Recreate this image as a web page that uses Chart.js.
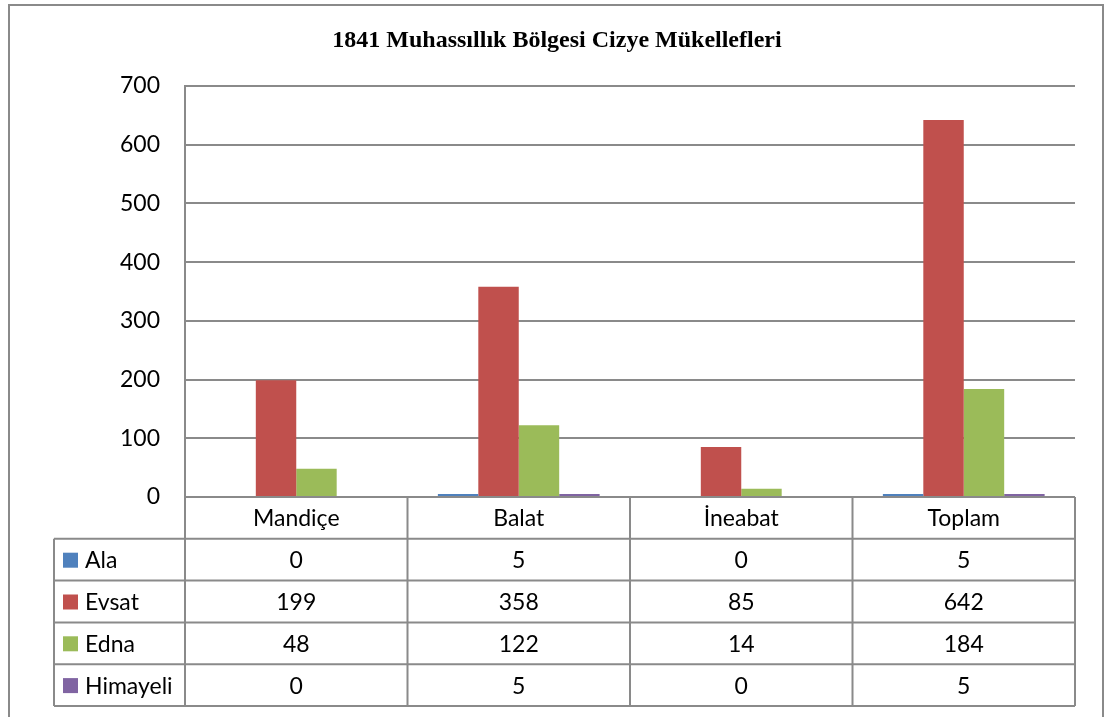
<!DOCTYPE html>
<html>
<head>
<meta charset="utf-8">
<script src="https://cdn.jsdelivr.net/npm/chart.js@4.4.0/dist/chart.umd.min.js"></script>
<style>
  body { margin: 0; background: #fff; }
  canvas { display: block; }
</style>
</head>
<body>
<canvas id="chart" width="1105" height="717"></canvas>
<script>
/** ────── DATA ────── */
const titleText = "1841 Muhassıllık Bölgesi Cizye Mükellefleri";
const categories = ["Mandiçe", "Balat", "İneabat", "Toplam"];
const seriesNames = ["Ala", "Evsat", "Edna", "Himayeli"];
const alaValues = [0, 5, 0, 5];
const evsatValues = [199, 358, 85, 642];
const ednaValues = [48, 122, 14, 184];
const himayeliValues = [0, 5, 0, 5];
const yTicks = [0, 100, 200, 300, 400, 500, 600, 700];

const seriesColors = ["#4F81BD", "#C0504D", "#9BBB59", "#8064A2"];
const lineColor = "#8a8a8a";
const tableFont = "23px Lato";

/** ────── PLUGIN: frame, title, data table ────── */
const excelLook = {
  id: "excelLook",
  beforeDraw(chart) {
    const { ctx, width, height } = chart;
    ctx.save();
    ctx.fillStyle = "#fff";
    ctx.fillRect(0, 0, width, height);
    ctx.strokeStyle = lineColor;
    ctx.lineWidth = 2;
    ctx.beginPath();
    ctx.moveTo(9, height + 5);
    ctx.lineTo(9, 5);
    ctx.lineTo(1103, 5);
    ctx.lineTo(1103, height + 5);
    ctx.stroke();
    ctx.restore();
  },
  afterDraw(chart) {
    const { ctx, chartArea } = chart;
    const x = chart.scales.x;
    ctx.save();

    // title
    ctx.fillStyle = "#000";
    ctx.font = "bold 24px 'Liberation Serif'";
    ctx.textAlign = "center";
    ctx.textBaseline = "middle";
    ctx.fillText(titleText, 557, 41);

    // table geometry
    const half = (x.getPixelForValue(1) - x.getPixelForValue(0)) / 2;
    const edges = categories.map((_, i) => x.getPixelForValue(i) - half);
    edges.push(chartArea.right);
    const top = chartArea.bottom;
    const rowH = 41.8;
    const tableLeft = 54;
    const bottom = top + rowH * (seriesNames.length + 1);

    ctx.strokeStyle = lineColor;
    ctx.lineWidth = 2;
    ctx.beginPath();
    edges.forEach((ex) => {
      ctx.moveTo(ex, top);
      ctx.lineTo(ex, bottom);
    });
    ctx.moveTo(tableLeft, top + rowH);
    ctx.lineTo(tableLeft, bottom);
    for (let r = 1; r <= seriesNames.length + 1; r++) {
      ctx.moveTo(tableLeft, top + rowH * r);
      ctx.lineTo(chartArea.right, top + rowH * r);
    }
    ctx.stroke();

    // header row
    ctx.font = tableFont;
    ctx.fillStyle = "#000";
    ctx.textAlign = "center";
    categories.forEach((c, i) => {
      ctx.fillText(c, x.getPixelForValue(i), top + rowH / 2 + 1);
    });

    // series rows
    chart.data.datasets.forEach((ds, r) => {
      const cy = top + rowH * (r + 1.5) + 1;
      ctx.fillStyle = ds.backgroundColor;
      ctx.fillRect(63, cy - 8, 15, 15);
      ctx.fillStyle = "#000";
      ctx.textAlign = "left";
      ctx.fillText(ds.label, 85, cy);
      ctx.textAlign = "center";
      ds.data.forEach((v, i) => ctx.fillText(String(v), x.getPixelForValue(i), cy));
    });
    ctx.restore();
  },
};

/** ────── CHART ────── */
const allSeries = [alaValues, evsatValues, ednaValues, himayeliValues];

new Chart(document.getElementById("chart"), {
  type: "bar",
  data: {
    labels: categories,
    datasets: allSeries.map((vals, i) => ({
      label: seriesNames[i],
      data: vals,
      backgroundColor: seriesColors[i],
      borderWidth: 0,
      barPercentage: 1,
      categoryPercentage: 0.727,
    })),
  },
  options: {
    responsive: false,
    animation: false,
    layout: { padding: { top: 86, right: 30, bottom: 220, left: 0 } },
    plugins: {
      legend: { display: false },
      title: { display: false },
      tooltip: { enabled: false },
    },
    scales: {
      x: { display: false },
      y: {
        min: yTicks[0],
        max: yTicks[yTicks.length - 1],
        afterBuildTicks: (scale) => {
          scale.ticks = yTicks.map((v) => ({ value: v }));
        },
        afterFit: (scale) => {
          scale.width = 185;
        },
        grid: { color: lineColor, lineWidth: 2, drawTicks: false },
        border: { color: lineColor, width: 2 },
        ticks: {
          color: "#000",
          padding: 25,
          font: { family: "Lato", size: 23 },
        },
      },
    },
  },
  plugins: [excelLook],
});
</script>
</body>
</html>
